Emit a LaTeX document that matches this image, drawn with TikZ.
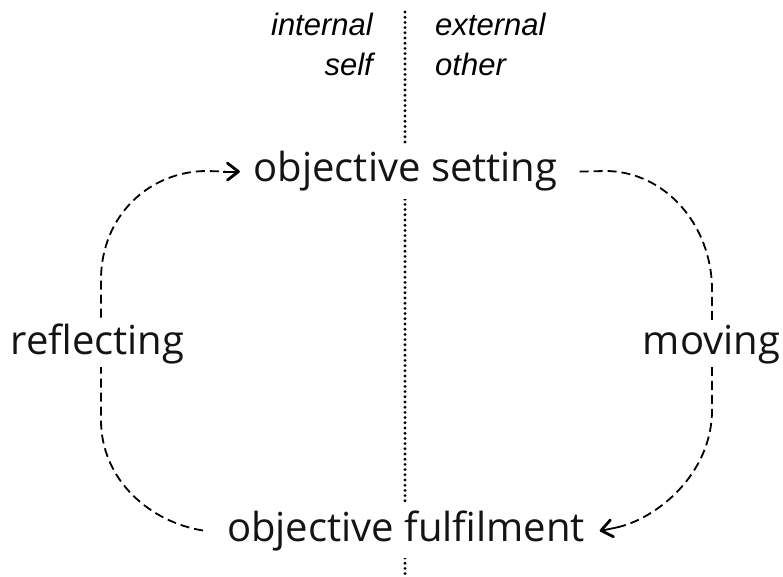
\documentclass[tikz,border=0pt]{standalone}
\usepackage{fontspec}
\setmainfont{Open Sans}
\newfontfamily\labfont{Liberation Sans}
\begin{document}
\begin{tikzpicture}[x=1pt,y=-1pt,
  main/.style={font=\fontsize{40}{48}\selectfont, text=black!92, fill=white, inner xsep=6pt, inner ysep=7pt, anchor=base},
  side/.style={font=\fontsize{40}{48}\selectfont, text=black!92, fill=white, inner xsep=2pt, inner ysep=3pt, anchor=base},
  tag/.style={font=\labfont\itshape\fontsize{31}{36}\selectfont, inner sep=0pt},
  dotline/.style={line width=3.2pt, line cap=round, dash pattern=on 0pt off 5.2pt},
  cycleline/.style={line width=1.8pt, dash pattern=on 9pt off 5pt},
  headline/.style={line width=1.8pt},
  chev/.style={line width=2.8pt, line cap=round, line join=round}
]
\useasboundingbox (0,0) rectangle (783,577);
\coordinate (dtop) at (405,12);
\coordinate (dbot) at (405,580);
\draw[dotline] (dtop) -- (dbot);
\node[main] (set) at (405.5,182) {objective setting};
\node[main] (ful) at (406,541) {objective fulfilment};
\node[tag, anchor=base east] (int) at (373,36) {internal};
\node[tag, anchor=base east] (self) at (373,76) {self};
\node[tag, anchor=base west] (ext) at (435,36) {external};
\node[tag, anchor=base west] (oth) at (435,76) {other};
% reflecting loop (fulfilment -> setting)
\draw[cycleline] ([xshift=-18pt]ful.west) .. controls (150,522) and (101,480) .. (101,420) -- (101,280) .. controls (101,215) and (150,171) .. (207,171) -- ([xshift=-22pt]set.west);
\draw[headline] ([xshift=-24pt]set.west) -- ([xshift=-10pt]set.west);
\draw[chev] ([xshift=-20pt,yshift=8.5pt]set.west) -- ([xshift=-9pt]set.west) -- ([xshift=-20pt,yshift=-8.5pt]set.west);
% moving loop (setting -> fulfilment)
\draw[cycleline] ([xshift=16pt]set.east) -- (605,171) .. controls (665,171) and (712,225) .. (712,290) -- (712,410) .. controls (712,475) and (655,520) .. ([xshift=24pt,yshift=2.7pt]ful.east);
\draw[headline] ([xshift=26pt,yshift=3.1pt]ful.east) -- ([xshift=11pt]ful.east);
\draw[chev] ([xshift=22.4pt,yshift=-6.25pt]ful.east) -- ([xshift=10pt]ful.east) -- ([xshift=19.2pt,yshift=10.45pt]ful.east);
\node[side] (refl) at (97.5,354) {reflecting};
\node[side] (mov) at (711.5,354) {moving};
\end{tikzpicture}
\end{document}
